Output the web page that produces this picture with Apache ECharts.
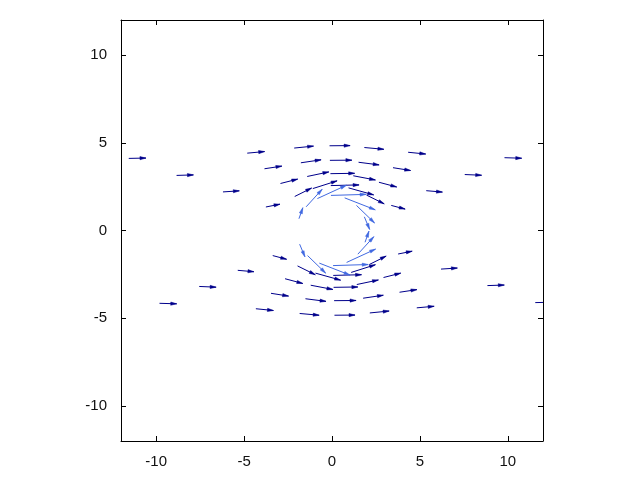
<!DOCTYPE html>
<html>
<head>
<meta charset="utf-8">
<script src="https://cdn.jsdelivr.net/npm/echarts@6/dist/echarts.min.js"></script>
<style>html,body{margin:0;padding:0;background:#fff}#c{width:640px;height:480px}</style>
</head>
<body>
<div id="c"></div>
<script>
// Tick labels
const xTicks = [-10, -5, 0, 5, 10];
const yTicks = [-10, -5, 0, 5, 10];

// Outer flow vectors (dark): tail x, tail y, dx, dy
const darkX = [3.37, 5.36, 7.55, 9.81, 1.96, 2.67, 3.47, 4.33, 0.94, 1.21, 1.51, 1.84, -0.07, -0.09, -0.12, -0.14,
  -1.09, -1.41, -1.77, -2.15, -2.12, -2.93, -3.84, -4.82, -3.76, -6.20, -8.84, -11.56,
  -3.37, -5.36, -7.55, -9.81, -1.96, -2.67, -3.47, -4.33, -0.94, -1.21, -1.51, -1.84, 0.07, 0.09, 0.12, 0.14,
  1.09, 1.41, 1.77, 2.15, 2.12, 2.93, 3.84, 4.82, 3.76, 6.20, 8.84, 11.56];
const darkY = [1.43, 2.27, 3.19, 4.15, 2.02, 2.75, 3.58, 4.46, 2.43, 3.12, 3.89, 4.73, 2.56, 3.24, 4.00, 4.83,
  2.39, 3.08, 3.86, 4.70, 1.94, 2.68, 3.52, 4.41, 1.34, 2.20, 3.14, 4.11,
  -1.43, -2.27, -3.19, -4.15, -2.02, -2.75, -3.58, -4.46, -2.43, -3.12, -3.89, -4.73, -2.56, -3.24, -4.00, -4.83,
  -2.39, -3.08, -3.86, -4.70, -1.94, -2.68, -3.52, -4.41, -1.34, -2.20, -3.14, -4.11];
const darkU = [0.79, 0.92, 0.96, 0.98, 1.01, 1.01, 1.00, 1.00, 1.43, 1.26, 1.17, 1.11, 1.61, 1.38, 1.25, 1.17,
  1.38, 1.23, 1.15, 1.10, 0.96, 0.98, 0.99, 0.99, 0.80, 0.93, 0.96, 0.98,
  0.79, 0.92, 0.96, 0.98, 1.01, 1.01, 1.00, 1.00, 1.43, 1.26, 1.17, 1.11, 1.61, 1.38, 1.25, 1.17,
  1.38, 1.23, 1.15, 1.10, 0.96, 0.98, 0.99, 0.99, 0.80, 0.93, 0.96, 0.98];
const darkV = [-0.21, -0.08, -0.04, -0.03, -0.50, -0.27, -0.16, -0.10, -0.40, -0.24, -0.15, -0.10, 0.04, 0.02, 0.01, 0.01,
  0.44, 0.26, 0.17, 0.11, 0.48, 0.25, 0.15, 0.09, 0.16, 0.06, 0.03, 0.02,
  -0.21, -0.08, -0.04, -0.03, -0.50, -0.27, -0.16, -0.10, -0.40, -0.24, -0.15, -0.10, 0.04, 0.02, 0.01, 0.01,
  0.44, 0.26, 0.17, 0.11, 0.48, 0.25, 0.15, 0.09, 0.16, 0.06, 0.03, 0.02];

// Vectors on the cylinder surface (light)
const ringX = [1.84, 1.39, 0.72, -0.06, -0.83, -1.47, -1.88, -1.84, -1.39, -0.72, 0.06, 0.83, 1.47, 1.88];
const ringY = [0.78, 1.43, 1.86, 2.00, 1.82, 1.35, 0.67, -0.78, -1.43, -1.86, -2.00, -1.82, -1.35, -0.67];
const ringU = [0.30, 1.03, 1.74, 2.00, 1.65, 0.91, 0.22, 0.30, 1.03, 1.74, 2.00, 1.65, 0.91, 0.22];
const ringV = [-0.72, -1.00, -0.68, 0.06, 0.76, 1.00, 0.63, -0.72, -1.00, -0.68, 0.06, 0.76, 1.00, 0.63];

const DARK = '#00008b';
const LIGHT = '#4169e1';

function rows(X, Y, U, V) { return X.map((x, i) => [x, Y[i], U[i], V[i]]); }

function arrowRenderer(color) {
  return function (params, api) {
    const x = api.value(0), y = api.value(1), u = api.value(2), v = api.value(3);
    const p0 = api.coord([x, y]);
    const p1 = api.coord([x + u, y + v]);
    const dx = p1[0] - p0[0], dy = p1[1] - p0[1];
    const len = Math.sqrt(dx * dx + dy * dy) || 1;
    const ux = dx / len, uy = dy / len;
    const hl = 6, hw = 1.6;
    const bx = p1[0] - ux * hl, by = p1[1] - uy * hl;
    return {
      type: 'group',
      children: [
        { type: 'line', shape: { x1: p0[0], y1: p0[1], x2: p1[0], y2: p1[1] },
          style: { stroke: color, lineWidth: 1 } },
        { type: 'polygon', shape: { points: [[p1[0], p1[1]], [bx - uy * hw, by + ux * hw], [bx + uy * hw, by - ux * hw]] },
          style: { fill: color, stroke: color, lineWidth: 0.5 } }
      ]
    };
  };
}

const labelFont = { fontFamily: 'Liberation Sans, Arial, sans-serif', fontSize: 15, color: '#111' };
const axisLine = { show: true, onZero: false, lineStyle: { color: '#000', width: 1 } };

function mkX(pos, labels) {
  return {
    type: 'value', position: pos, min: -12, max: 12,
    axisLine: axisLine,
    axisTick: { show: true, inside: true, length: 5, customValues: xTicks, lineStyle: { color: '#000' } },
    axisLabel: Object.assign({ show: labels, margin: 13, customValues: xTicks }, labelFont),
    splitLine: { show: false }
  };
}
function mkY(pos, labels) {
  return {
    type: 'value', position: pos, min: -12, max: 12,
    axisLine: axisLine,
    axisTick: { show: true, inside: true, length: 5, customValues: yTicks, lineStyle: { color: '#000' } },
    axisLabel: Object.assign({ show: labels, margin: 14, customValues: yTicks }, labelFont),
    splitLine: { show: false }
  };
}

const chart = echarts.init(document.getElementById('c'), null, { renderer: 'canvas' });
chart.setOption({
  animation: false,
  backgroundColor: '#fff',
  grid: { left: 121, right: 97, top: 20, bottom: 39, containLabel: false },
  xAxis: [mkX('bottom', true), mkX('top', false)],
  yAxis: [mkY('left', true), mkY('right', false)],
  series: [
    { type: 'custom', name: 'flow', clip: true, xAxisIndex: 0, yAxisIndex: 0,
      data: rows(darkX, darkY, darkU, darkV), renderItem: arrowRenderer(DARK) },
    { type: 'custom', name: 'surface', clip: true, xAxisIndex: 0, yAxisIndex: 0,
      data: rows(ringX, ringY, ringU, ringV), renderItem: arrowRenderer(LIGHT) }
  ]
});
</script>
</body>
</html>
